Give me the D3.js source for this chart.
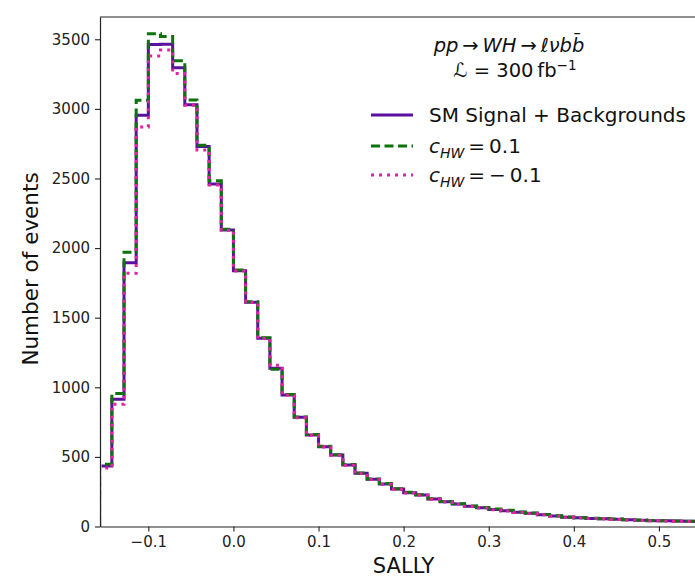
<!DOCTYPE html>
<html>
<head>
<meta charset="utf-8">
<script src="https://cdn.jsdelivr.net/npm/d3@7"></script>
<style>
  html, body { margin: 0; padding: 0; background: #fff; }
  svg { display: block; font-family: "DejaVu Sans", sans-serif; }
</style>
</head>
<body>
<svg id="chart" width="695" height="579"></svg>
<script>
// Histogram binning of the SALLY score: 50 bins of width 1/70 starting at -11/70
const binStart = -11 / 70;
const binWidth = 1 / 70;

// Expected events per bin
const smSignalBkg = [435, 914, 1895, 2955, 3462, 3464, 3296, 3030, 2729, 2460,
  2130, 1838, 1611, 1352, 1136, 945, 784, 657, 573, 513,
  442, 382, 339, 305, 269, 243, 226, 198, 178, 162,
  145, 135, 123, 114, 103, 95, 85, 76, 67, 62,
  58, 55, 52, 48, 45, 42, 41, 39, 37, 36];
const cHWplus = [447, 955, 1970, 3062, 3540, 3520, 3346, 3064, 2738, 2484,
  2135, 1843, 1615, 1355, 1130, 948, 787, 660, 577, 516,
  445, 385, 341, 308, 271, 246, 228, 200, 180, 164,
  147, 137, 125, 116, 105, 97, 86, 77, 68, 63,
  59, 56, 53, 49, 46, 43, 42, 40, 38, 37];
const cHWminus = [420, 878, 1819, 2870, 3380, 3423, 3254, 3026, 2705, 2453,
  2128, 1836, 1609, 1350, 1158, 943, 782, 655, 571, 511,
  440, 380, 337, 303, 267, 241, 224, 196, 176, 160,
  143, 133, 121, 112, 101, 93, 84, 75, 66, 61,
  57, 54, 51, 47, 44, 41, 40, 38, 36, 35];

const xTicks = [-0.1, 0.0, 0.1, 0.2, 0.3, 0.4, 0.5];
const yTicks = [0, 500, 1000, 1500, 2000, 2500, 3000, 3500];

const legendLabels = ["SM Signal + Backgrounds", "c_HW = 0.1", "c_HW = −0.1"];

const svg = d3.select("#chart");
const plot = { left: 100, right: 710, top: 17, bottom: 526.5 };

const x = d3.scaleLinear().domain([-0.1568, 0.56]).range([plot.left, plot.right]);
const y = d3.scaleLinear().domain([0, 3660]).range([plot.bottom, plot.top]);

svg.append("defs").append("clipPath").attr("id", "plotClip")
  .append("rect")
  .attr("x", plot.left + 1.6).attr("y", plot.top)
  .attr("width", plot.right - plot.left).attr("height", plot.bottom - plot.top);

const series = [
  { name: legendLabels[0], values: smSignalBkg, color: "#5b119f", width: 3, dash: null },
  { name: legendLabels[1], values: cHWplus, color: "#0d730d", width: 3, dash: "9,4.5" },
  { name: legendLabels[2], values: cHWminus, color: "#e2229f", width: 3, dash: "3,5" }
];

function stepPoints(values) {
  const pts = [{ e: binStart, v: 0 }];
  values.forEach((v, i) => pts.push({ e: binStart + i * binWidth, v }));
  pts.push({ e: binStart + values.length * binWidth, v: values[values.length - 1] });
  pts.push({ e: binStart + values.length * binWidth, v: 0 });
  return pts;
}

const line = d3.line()
  .x(d => x(d.e))
  .y(d => y(d.v))
  .curve(d3.curveStepAfter);

const gData = svg.append("g").attr("clip-path", "url(#plotClip)");
series.forEach(s => {
  gData.append("path")
    .attr("d", line(stepPoints(s.values)))
    .attr("fill", "none")
    .attr("stroke", s.color)
    .attr("stroke-width", s.width)
    .attr("stroke-dasharray", s.dash)
    .attr("stroke-linejoin", "miter");
});

// Axes
const xAxis = d3.axisBottom(x).tickValues(xTicks).tickFormat(d3.format(".1f"))
  .tickSizeInner(5).tickSizeOuter(0).tickPadding(5);
const yAxis = d3.axisLeft(y).tickValues(yTicks).tickFormat(d3.format("d"))
  .tickSizeInner(5).tickSizeOuter(0).tickPadding(5);

const gx = svg.append("g").attr("transform", `translate(0,${plot.bottom})`).call(xAxis);
const gy = svg.append("g").attr("transform", `translate(${plot.left},0)`).call(yAxis);
[gx, gy].forEach(g => {
  g.select(".domain").attr("stroke", "#222").attr("stroke-width", 1.2);
  g.selectAll(".tick line").attr("stroke", "#222").attr("stroke-width", 1.1);
  g.selectAll(".tick text").attr("fill", "#222").attr("font-size", "15px")
    .attr("font-family", "DejaVu Sans, sans-serif");
});

// Top spine
svg.append("line")
  .attr("x1", plot.left).attr("x2", plot.right)
  .attr("y1", plot.top).attr("y2", plot.top)
  .attr("stroke", "#222").attr("stroke-width", 1.2);

// Axis titles
svg.append("text")
  .attr("x", x(0.2)).attr("y", 573)
  .attr("text-anchor", "middle")
  .attr("font-size", "21px").attr("fill", "#111")
  .text("SALLY");

svg.append("text")
  .attr("transform", `translate(38,269) rotate(-90)`)
  .attr("text-anchor", "middle")
  .attr("font-size", "21.5px").attr("fill", "#111")
  .text("Number of events");

// Process and luminosity annotation
const title1 = svg.append("text")
  .attr("x", 509).attr("y", 52)
  .attr("text-anchor", "middle")
  .attr("font-size", "19.5px").attr("fill", "#111");
title1.append("tspan").attr("font-style", "italic").text("pp");
title1.append("tspan").text("\u2009→\u2009");
title1.append("tspan").attr("font-style", "italic").text("WH");
title1.append("tspan").text("\u2009→\u2009");
title1.append("tspan").attr("font-style", "italic").text("ℓνbb\u0304");

const title2 = svg.append("text")
  .attr("x", 515).attr("y", 77)
  .attr("text-anchor", "middle")
  .attr("font-size", "19.5px").attr("fill", "#111");
title2.append("tspan").text("ℒ = 300\u2009fb");
title2.append("tspan").attr("font-size", "13.5px").attr("dy", -7).text("−1");

// Legend
const legendY = [115, 146, 175];
const gLeg = svg.append("g");
series.forEach((s, i) => {
  gLeg.append("line")
    .attr("x1", 371).attr("x2", 413)
    .attr("y1", legendY[i]).attr("y2", legendY[i])
    .attr("stroke", s.color)
    .attr("stroke-width", s.width)
    .attr("stroke-dasharray", s.dash);
});
gLeg.append("text")
  .attr("x", 429).attr("y", legendY[0] + 7)
  .attr("font-size", "20px").attr("fill", "#111")
  .text(legendLabels[0]);

[1, 2].forEach(i => {
  const t = gLeg.append("text")
    .attr("x", 429).attr("y", legendY[i] + 7)
    .attr("font-size", "20px").attr("fill", "#111");
  t.append("tspan").attr("font-style", "italic").text("c");
  t.append("tspan").attr("font-style", "italic").attr("font-size", "14px").attr("dy", 5).text("HW");
  t.append("tspan").attr("dy", -5).text(i === 1 ? "\u2009=\u20090.1" : "\u2009=\u2009−\u20090.1");
});
</script>
</body>
</html>
